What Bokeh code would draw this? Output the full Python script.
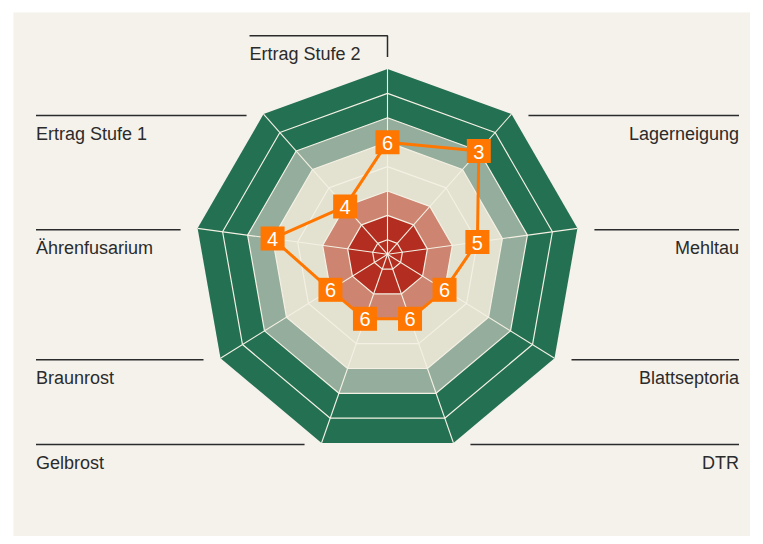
import numpy as np
from bokeh.plotting import figure
from bokeh.models import Range1d
from bokeh.embed import file_html
from bokeh.resources import INLINE
from bokeh.core.properties import value

# ---------------- data ----------------
categories = ["Ertrag Stufe 2", "Lagerneigung", "Mehltau", "Blattseptoria", "DTR",
              "Gelbrost", "Braunrost", "Ährenfusarium", "Ertrag Stufe 1"]
scores = [6, 3, 5, 6, 6, 6, 6, 4, 4]
higher_is_better = [True, False, False, False, False, False, False, False, True]
levels = [2, 3, 4, 5, 6, 7, 8, 9]
max_score = 9

# ---------------- style ----------------
GREEN = "#247052"
GREYGREEN = "#95AD9C"
BEIGE = "#E3E1CF"
SALMON = "#CD8470"
RED = "#B32E20"
ORANGE = "#FF7700"
BG = "#F5F2EC"
INK = "#2B2B2B"
band_color = {9: GREEN, 8: GREEN, 7: GREYGREEN, 6: BEIGE, 5: BEIGE, 4: SALMON, 3: RED, 2: RED}

STEP = 25.39      # radial scale: units per score step
ORIGIN = 1.405    # score at centre
TILT = 0.039      # slight downward drift of the rings
FONT = value("Liberation Sans")

n = len(categories)
angles = [2 * np.pi * k / n for k in range(n)]


def radius(v):
    return STEP * (v - ORIGIN)


def pos(v, k):
    r = radius(v)
    return r * np.sin(angles[k]), r * (np.cos(angles[k]) - TILT)


W, H = 737, 524
p = figure(width=W, height=H, output_backend="svg", toolbar_location=None,
           x_axis_location=None, y_axis_location=None, min_border=0,
           x_range=Range1d(-374, W - 374), y_range=Range1d(-(H - 241.8), 241.8),
           background_fill_color=BG, border_fill_color=BG, outline_line_color=None,
           margin=(12, 0, 0, 13))
p.grid.visible = False

# bands (outer to inner)
for v in sorted(levels, reverse=True):
    pts = [pos(v, k) for k in range(n)]
    p.patch([q[0] for q in pts], [q[1] for q in pts], fill_color=band_color[v], line_color=None)

# ring outlines
for v in levels[:-1]:
    pts = [pos(v, k) for k in range(n)] + [pos(v, 0)]
    p.line([q[0] for q in pts], [q[1] for q in pts], line_color="#F4F1E4", line_width=1.2)

# spokes
for k in range(n):
    x1, y1 = pos(max_score, k)
    p.line([0, x1], [0, y1], line_color="#F4F1E4", line_width=1.1)

# data
plotted = [s if hb else (max_score + 1 - s) for s, hb in zip(scores, higher_is_better)]
dpts = [pos(v, k) for k, v in enumerate(plotted)]
xs = [q[0] for q in dpts]
ys = [q[1] for q in dpts]
p.line(xs + [xs[0]], ys + [ys[0]], line_color=ORANGE, line_width=3)
p.scatter(xs, ys, marker="square", size=24, fill_color=ORANGE, line_color=None)
p.text(xs, [y - 0.5 for y in ys], text=[str(s) for s in scores], text_color="white",
       text_font=FONT, text_font_size="20px", text_align="center", text_baseline="middle")

# category labels with rules
LABEL_X = 351.5
GAP = 17
BASE = 18.5
for k, name in enumerate(categories):
    vx, vy = pos(max_score, k)
    if k == 0:
        top = vy + 33.3
        p.line([vx, vx, vx - 138], [vy + 12, top, top], line_color=INK, line_width=1.5)
        p.text([vx - 138], [top - BASE], text=[name], text_color=INK, text_font=FONT,
               text_font_size="18px", text_align="left", text_baseline="alphabetic")
        continue
    ly = vy - 1.5
    if vx > 0:
        p.line([vx + GAP, LABEL_X], [ly, ly], line_color=INK, line_width=1.5)
        p.text([LABEL_X], [ly - BASE], text=[name], text_color=INK, text_font=FONT,
               text_font_size="18px", text_align="right", text_baseline="alphabetic")
    else:
        p.line([-LABEL_X, vx - GAP], [ly, ly], line_color=INK, line_width=1.5)
        p.text([-LABEL_X], [ly - BASE], text=[name], text_color=INK, text_font=FONT,
               text_font_size="18px", text_align="left", text_baseline="alphabetic")

open("out.html", "w").write(file_html(p, INLINE))
